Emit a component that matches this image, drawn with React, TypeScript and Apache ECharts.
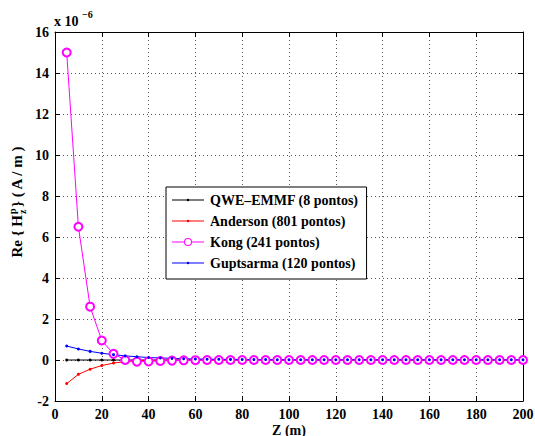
import React, { useEffect, useRef } from "react";
import * as echarts from "echarts";

const zValues = [5, 10, 15, 20, 25, 30, 35, 40, 45, 50, 55, 60, 65, 70, 75, 80, 85, 90, 95, 100, 105, 110, 115, 120, 125, 130, 135, 140, 145, 150, 155, 160, 165, 170, 175, 180, 185, 190, 195, 200];
const qweValues = [0, 0, 0, 0, 0, 0, 0, 0, 0, 0, 0, 0, 0, 0, 0, 0, 0, 0, 0, 0, 0, 0, 0, 0, 0, 0, 0, 0, 0, 0, 0, 0, 0, 0, 0, 0, 0, 0, 0, 0];
const andersonValues = [-1.15, -0.7, -0.45, -0.27, -0.15, -0.08, -0.04, -0.02, -0.01, -0.005, 0, 0, 0, 0, 0, 0, 0, 0, 0, 0, 0, 0, 0, 0, 0, 0, 0, 0, 0, 0, 0, 0, 0, 0, 0, 0, 0, 0, 0, 0];
const kongValues = [15, 6.5, 2.6, 0.95, 0.3, 0.0, -0.08, -0.07, -0.05, -0.03, -0.015, -0.01, 0, 0, 0, 0, 0, 0, 0, 0, 0, 0, 0, 0, 0, 0, 0, 0, 0, 0, 0, 0, 0, 0, 0, 0, 0, 0, 0, 0];
const guptaValues = [0.68, 0.54, 0.42, 0.33, 0.26, 0.2, 0.16, 0.12, 0.1, 0.08, 0.06, 0.05, 0.04, 0.035, 0.03, 0.025, 0.02, 0.02, 0.015, 0.015, 0.01, 0.01, 0.01, 0.01, 0.01, 0.01, 0.01, 0.01, 0.01, 0.01, 0.01, 0.01, 0.01, 0.01, 0.01, 0.01, 0.01, 0.01, 0.01, 0.01];
const seriesNames = ["QWE\u2013EMMF (8 pontos)", "Anderson (801 pontos)", "Kong (241 pontos)", "Guptsarma (120 pontos)"];

const FONT = "'Liberation Serif', 'Times New Roman', serif";

const DOT_ICON = "path://M0,4.5L32,4.5L32,5.5L0,5.5Z M17.3,5A1.3,1.3,0,1,1,14.7,5A1.3,1.3,0,1,1,17.3,5Z";
const RING_ICON = "path://M0,4.5L12,4.5L12,5.5L0,5.5Z M20,4.5L32,4.5L32,5.5L20,5.5Z M20,5A4,4,0,1,0,12,5A4,4,0,1,0,20,5Z M19,5A3,3,0,1,1,13,5A3,3,0,1,1,19,5Z";

export default function App() {
  const ref = useRef<HTMLDivElement>(null);
  useEffect(() => {
    if (!ref.current) return;
    const chart = echarts.init(ref.current, undefined, { renderer: "svg" });
    const pair = (vals: number[]) => zValues.map((z, i) => [z, vals[i]]);
    const axisCommon = {
      type: "value" as const,
      axisLine: { show: true, onZero: false, lineStyle: { color: "#000", width: 1 } },
      axisTick: { show: true, inside: true, length: 5, lineStyle: { color: "#000" } },
    };
    const labelStyle = { color: "#000", fontFamily: FONT, fontWeight: "bold" as const, fontSize: 14 };
    const txt = (text: string, x: number, y: number, size: number, align: string) => ({
      type: "text",
      x,
      y,
      style: { text, fontFamily: FONT, fontWeight: "bold", fontSize: size, fill: "#000", textAlign: align, textVerticalAlign: "middle" },
    });
    chart.setOption({
      animation: false,
      backgroundColor: "#fff",
      grid: { left: 55, top: 32, right: 12, bottom: 35, containLabel: false, outerBoundsMode: "none" },
      xAxis: [
        {
          ...axisCommon,
          position: "bottom",
          min: 0, max: 200, interval: 20,
          axisLabel: { ...labelStyle, margin: 6, lineHeight: 14 },
          splitLine: { show: true, lineStyle: { color: "#555", type: [1, 3], width: 1 } },
          name: "Z (m)",
          nameLocation: "middle",
          nameGap: 22,
          nameMoveOverlap: false,
          nameTextStyle: { ...labelStyle, fontSize: 14, lineHeight: 14 },
        },
        {
          ...axisCommon,
          position: "top",
          min: 0, max: 200, interval: 20,
          axisLabel: { show: false },
          splitLine: { show: false },
        },
      ],
      yAxis: [
        {
          ...axisCommon,
          position: "left",
          min: -2, max: 16, interval: 2,
          axisLabel: { ...labelStyle, margin: 6 },
          splitLine: { show: true, lineStyle: { color: "#555", type: [1, 3], width: 1 } },
        },
        {
          ...axisCommon,
          position: "right",
          min: -2, max: 16, interval: 2,
          axisLabel: { show: false },
          splitLine: { show: false },
        },
      ],
      legend: {
        orient: "vertical",
        left: 166,
        top: 187,
        width: 209,
        padding: [6, 8, 9, 6],
        itemGap: 7,
        itemWidth: 32,
        itemHeight: 16,
        symbolKeepAspect: true,
        backgroundColor: "#fff",
        borderColor: "#000",
        borderWidth: 1,
        borderRadius: 0,
        itemStyle: { borderWidth: 0 },
        textStyle: { color: "#000", fontFamily: FONT, fontWeight: "bold", fontSize: 14, padding: [0, 0, 0, 1] },
        data: [
          { name: seriesNames[0], icon: DOT_ICON },
          { name: seriesNames[1], icon: DOT_ICON },
          { name: seriesNames[2], icon: RING_ICON },
          { name: seriesNames[3], icon: DOT_ICON },
        ],
      },
      graphic: [
        {
          type: "text",
          x: 54,
          y: 14,
          style: { text: "x 10", fontFamily: FONT, fontWeight: "bold", fontSize: 14, fill: "#000", textAlign: "left", textVerticalAlign: "top" },
        },
        {
          type: "text",
          x: 82,
          y: 9,
          style: { text: "\u22126", fontFamily: FONT, fontWeight: "bold", fontSize: 10, fill: "#000", textAlign: "left", textVerticalAlign: "top" },
        },
        {
          type: "group",
          x: 17,
          y: 214,
          rotation: Math.PI / 2,
          children: [
            txt("Re { H", -1, 0, 15, "right"),
            txt("p", 0, -5, 10, "left"),
            txt("z", 0, 5, 10, "left"),
            txt("} ( A / m )", 7, 0, 15, "left"),
          ],
        },
      ],
      series: [
        {
          name: seriesNames[0], type: "line", data: pair(qweValues),
          lineStyle: { color: "#000", width: 1 }, itemStyle: { color: "#000" },
          symbol: "circle", symbolSize: 3, showSymbol: true,
        },
        {
          name: seriesNames[1], type: "line", data: pair(andersonValues),
          lineStyle: { color: "#ff0000", width: 1 }, itemStyle: { color: "#ff0000" },
          symbol: "circle", symbolSize: 3,
        },
        {
          name: seriesNames[2], type: "line", data: pair(kongValues),
          lineStyle: { color: "#ff00ff", width: 1 }, itemStyle: { color: "#ff00ff", borderColor: "#ff00ff", borderWidth: 1 },
          symbol: "emptyCircle", symbolSize: 8,
        },
        {
          name: seriesNames[3], type: "line", data: pair(guptaValues),
          lineStyle: { color: "#0000ff", width: 1 }, itemStyle: { color: "#0000ff" },
          symbol: "circle", symbolSize: 3,
        },
      ],
    });
    return () => chart.dispose();
  }, []);
  return <div ref={ref} style={{ width: 535, height: 436, position: "absolute", left: 0, top: 0 }} />;
}
